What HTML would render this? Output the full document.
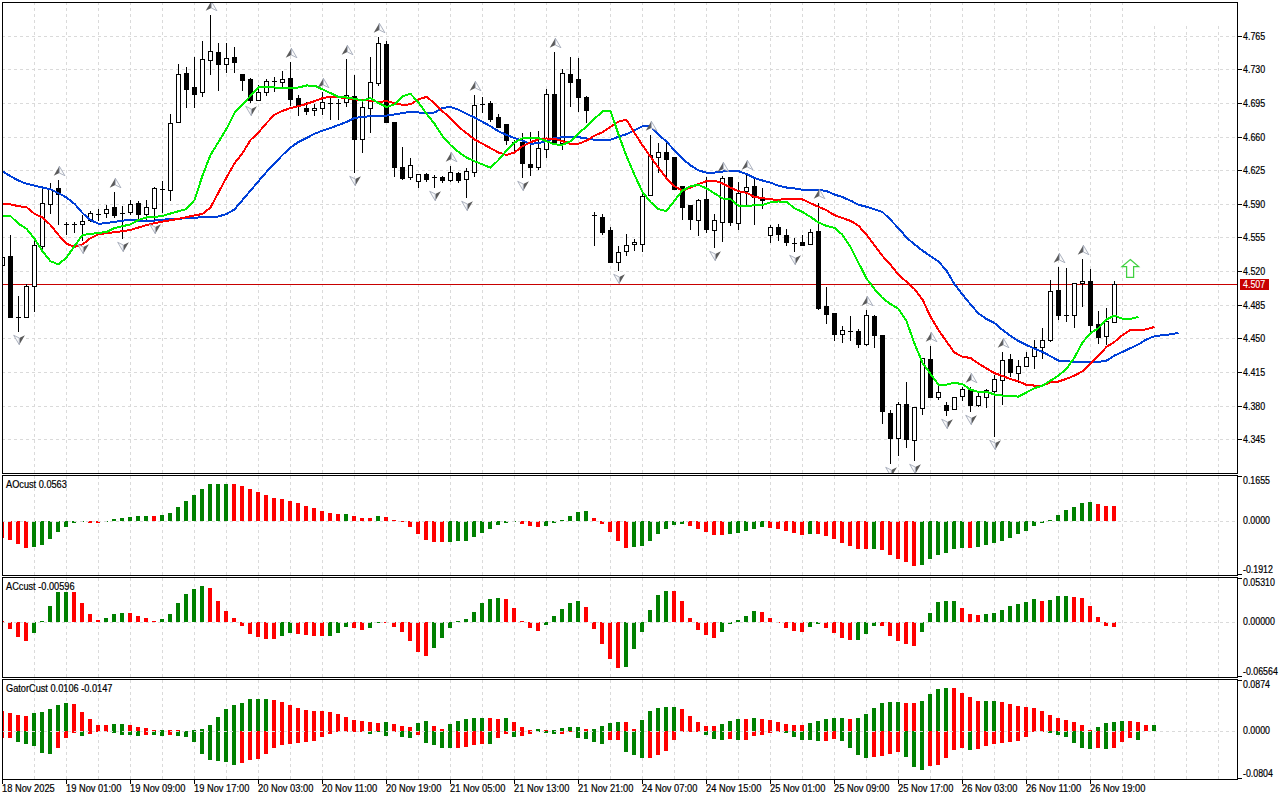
<!DOCTYPE html><html><head><meta charset="utf-8"><style>html,body{margin:0;padding:0;background:#fff;width:1280px;height:800px;overflow:hidden}svg{display:block}text{font-family:"Liberation Sans",sans-serif;font-size:10px;fill:#000;stroke:#000;stroke-width:0.2px}</style></head><body>
<svg width="1280" height="800" viewBox="0 0 1280 800">
<rect x="0" y="0" width="1280" height="800" fill="#fff"/>
<defs><clipPath id="cm"><rect x="3" y="3" width="1234" height="470"/></clipPath>
<clipPath id="c1"><rect x="3" y="476" width="1234" height="99"/></clipPath>
<clipPath id="c2"><rect x="3" y="578" width="1234" height="99"/></clipPath>
<clipPath id="c3"><rect x="3" y="680" width="1234" height="99"/></clipPath>
<clipPath id="call"><rect x="3" y="3" width="1234" height="470"/><rect x="3" y="476" width="1234" height="99"/><rect x="3" y="578" width="1234" height="99"/><rect x="3" y="680" width="1234" height="99"/></clipPath></defs>
<path d="M34.5 2V473M66.5 2V473M98.5 2V473M130.5 2V473M162.5 2V473M194.5 2V473M226.5 2V473M258.5 2V473M290.5 2V473M322.5 2V473M354.5 2V473M386.5 2V473M418.5 2V473M450.5 2V473M482.5 2V473M514.5 2V473M546.5 2V473M578.5 2V473M610.5 2V473M642.5 2V473M674.5 2V473M706.5 2V473M738.5 2V473M770.5 2V473M802.5 2V473M834.5 2V473M866.5 2V473M898.5 2V473M930.5 2V473M962.5 2V473M994.5 2V473M1026.5 2V473M1058.5 2V473M1090.5 2V473M1122.5 2V473M1154.5 26V473M1186.5 26V473M1218.5 26V473M34.5 476V575M66.5 476V575M98.5 476V575M130.5 476V575M162.5 476V575M194.5 476V575M226.5 476V575M258.5 476V575M290.5 476V575M322.5 476V575M354.5 476V575M386.5 476V575M418.5 476V575M450.5 476V575M482.5 476V575M514.5 476V575M546.5 476V575M578.5 476V575M610.5 476V575M642.5 476V575M674.5 476V575M706.5 476V575M738.5 476V575M770.5 476V575M802.5 476V575M834.5 476V575M866.5 476V575M898.5 476V575M930.5 476V575M962.5 476V575M994.5 476V575M1026.5 476V575M1058.5 476V575M1090.5 476V575M1122.5 476V575M1154.5 476V575M1186.5 476V575M1218.5 476V575M34.5 578V677M66.5 578V677M98.5 578V677M130.5 578V677M162.5 578V677M194.5 578V677M226.5 578V677M258.5 578V677M290.5 578V677M322.5 578V677M354.5 578V677M386.5 578V677M418.5 578V677M450.5 578V677M482.5 578V677M514.5 578V677M546.5 578V677M578.5 578V677M610.5 578V677M642.5 578V677M674.5 578V677M706.5 578V677M738.5 578V677M770.5 578V677M802.5 578V677M834.5 578V677M866.5 578V677M898.5 578V677M930.5 578V677M962.5 578V677M994.5 578V677M1026.5 578V677M1058.5 578V677M1090.5 578V677M1122.5 578V677M1154.5 578V677M1186.5 578V677M1218.5 578V677M34.5 680V779M66.5 680V779M98.5 680V779M130.5 680V779M162.5 680V779M194.5 680V779M226.5 680V779M258.5 680V779M290.5 680V779M322.5 680V779M354.5 680V779M386.5 680V779M418.5 680V779M450.5 680V779M482.5 680V779M514.5 680V779M546.5 680V779M578.5 680V779M610.5 680V779M642.5 680V779M674.5 680V779M706.5 680V779M738.5 680V779M770.5 680V779M802.5 680V779M834.5 680V779M866.5 680V779M898.5 680V779M930.5 680V779M962.5 680V779M994.5 680V779M1026.5 680V779M1058.5 680V779M1090.5 680V779M1122.5 680V779M1154.5 680V779M1186.5 680V779M1218.5 680V779M2 36.5H1237M2 69.5H1237M2 103.5H1237M2 137.5H1237M2 170.5H1237M2 204.5H1237M2 237.5H1237M2 271.5H1237M2 305.5H1237M2 338.5H1237M2 372.5H1237M2 406.5H1237M2 439.5H1237" clip-path="url(#call)" stroke="#dadada" stroke-width="1" stroke-dasharray="3 3" fill="none" shape-rendering="crispEdges"/>
<g clip-path="url(#cm)">
<rect x="3" y="284" width="1234" height="1" fill="#c80000"/>
<g fill="#000" shape-rendering="crispEdges"><rect x="0" y="257.0" width="5" height="9.0"/><rect x="10" y="235.0" width="1" height="21.0"/><rect x="8" y="256.0" width="5" height="62.0"/><rect x="18" y="296.0" width="1" height="21.0"/><rect x="18" y="318.0" width="1" height="14.0"/><rect x="16" y="317.0" width="5" height="1"/><rect x="26" y="284.0" width="1" height="2.0"/><rect x="24" y="286.0" width="5" height="32.0"/><rect x="34" y="240.0" width="1" height="5.0"/><rect x="34" y="287.0" width="1" height="25.0"/><rect x="32" y="245.0" width="5" height="42.0"/><rect x="42" y="188.0" width="1" height="15.0"/><rect x="42" y="247.0" width="1" height="3.0"/><rect x="40" y="203.0" width="5" height="44.0"/><rect x="50" y="183.0" width="1" height="6.0"/><rect x="50" y="205.0" width="1" height="9.0"/><rect x="48" y="189.0" width="5" height="16.0"/><rect x="58" y="180.0" width="1" height="8.0"/><rect x="58" y="195.0" width="1" height="30.0"/><rect x="56" y="188.0" width="5" height="7.0"/><rect x="66" y="222.0" width="1" height="2.0"/><rect x="66" y="225.0" width="1" height="10.0"/><rect x="64" y="224.0" width="5" height="1"/><rect x="74" y="222.0" width="1" height="2.0"/><rect x="74" y="225.0" width="1" height="8.0"/><rect x="72" y="224.0" width="5" height="1"/><rect x="82" y="215.0" width="1" height="6.0"/><rect x="82" y="225.0" width="1" height="16.0"/><rect x="80" y="221.0" width="5" height="4.0"/><rect x="90" y="211.0" width="1" height="2.0"/><rect x="90" y="221.0" width="1" height="1.0"/><rect x="88" y="213.0" width="5" height="8.0"/><rect x="98" y="209.0" width="1" height="5.0"/><rect x="98" y="215.0" width="1" height="6.0"/><rect x="96" y="214.0" width="5" height="1"/><rect x="106" y="205.0" width="1" height="4.0"/><rect x="106" y="214.0" width="1" height="4.0"/><rect x="104" y="209.0" width="5" height="5.0"/><rect x="114" y="192.0" width="1" height="15.0"/><rect x="114" y="216.0" width="1" height="2.0"/><rect x="112" y="207.0" width="5" height="9.0"/><rect x="122" y="206.0" width="1" height="7.0"/><rect x="122" y="214.0" width="1" height="25.0"/><rect x="120" y="213.0" width="5" height="1"/><rect x="130" y="200.0" width="1" height="4.0"/><rect x="130" y="213.0" width="1" height="2.0"/><rect x="128" y="204.0" width="5" height="9.0"/><rect x="138" y="201.0" width="1" height="2.0"/><rect x="138" y="215.0" width="1" height="5.0"/><rect x="136" y="203.0" width="5" height="12.0"/><rect x="146" y="200.0" width="1" height="7.0"/><rect x="146" y="215.0" width="1" height="5.0"/><rect x="144" y="207.0" width="5" height="8.0"/><rect x="154" y="187.0" width="1" height="1.0"/><rect x="154" y="209.0" width="1" height="12.0"/><rect x="152" y="188.0" width="5" height="21.0"/><rect x="162" y="181.0" width="1" height="8.0"/><rect x="162" y="190.0" width="1" height="23.0"/><rect x="160" y="189.0" width="5" height="1"/><rect x="170" y="114.0" width="1" height="9.0"/><rect x="170" y="191.0" width="1" height="10.0"/><rect x="168" y="123.0" width="5" height="68.0"/><rect x="178" y="64.0" width="1" height="10.0"/><rect x="176" y="74.0" width="5" height="49.0"/><rect x="186" y="67.0" width="1" height="6.0"/><rect x="186" y="90.0" width="1" height="18.0"/><rect x="184" y="73.0" width="5" height="17.0"/><rect x="194" y="57.0" width="1" height="30.0"/><rect x="194" y="95.0" width="1" height="13.0"/><rect x="192" y="87.0" width="5" height="8.0"/><rect x="202" y="41.0" width="1" height="18.0"/><rect x="202" y="93.0" width="1" height="4.0"/><rect x="200" y="59.0" width="5" height="34.0"/><rect x="210" y="15.0" width="1" height="36.0"/><rect x="210" y="61.0" width="1" height="14.0"/><rect x="208" y="51.0" width="5" height="10.0"/><rect x="218" y="43.0" width="1" height="9.0"/><rect x="218" y="65.0" width="1" height="26.0"/><rect x="216" y="52.0" width="5" height="13.0"/><rect x="226" y="43.0" width="1" height="15.0"/><rect x="226" y="65.0" width="1" height="8.0"/><rect x="224" y="58.0" width="5" height="7.0"/><rect x="234" y="47.0" width="1" height="10.0"/><rect x="234" y="63.0" width="1" height="10.0"/><rect x="232" y="57.0" width="5" height="6.0"/><rect x="242" y="81.0" width="1" height="10.0"/><rect x="240" y="74.0" width="5" height="7.0"/><rect x="250" y="78.0" width="1" height="1.0"/><rect x="250" y="101.0" width="1" height="2.0"/><rect x="248" y="79.0" width="5" height="22.0"/><rect x="258" y="85.0" width="1" height="7.0"/><rect x="256" y="92.0" width="5" height="9.0"/><rect x="266" y="79.0" width="1" height="2.0"/><rect x="266" y="93.0" width="1" height="3.0"/><rect x="264" y="81.0" width="5" height="12.0"/><rect x="274" y="77.0" width="1" height="4.0"/><rect x="274" y="82.0" width="1" height="10.0"/><rect x="272" y="81.0" width="5" height="1"/><rect x="282" y="71.0" width="1" height="8.0"/><rect x="282" y="83.0" width="1" height="4.0"/><rect x="280" y="79.0" width="5" height="4.0"/><rect x="290" y="62.0" width="1" height="16.0"/><rect x="290" y="100.0" width="1" height="6.0"/><rect x="288" y="78.0" width="5" height="22.0"/><rect x="298" y="95.0" width="1" height="3.0"/><rect x="298" y="106.0" width="1" height="10.0"/><rect x="296" y="98.0" width="5" height="8.0"/><rect x="306" y="102.0" width="1" height="6.0"/><rect x="306" y="112.0" width="1" height="3.0"/><rect x="304" y="108.0" width="5" height="4.0"/><rect x="314" y="104.0" width="1" height="4.0"/><rect x="314" y="111.0" width="1" height="5.0"/><rect x="312" y="108.0" width="5" height="3.0"/><rect x="322" y="92.0" width="1" height="10.0"/><rect x="322" y="109.0" width="1" height="6.0"/><rect x="320" y="102.0" width="5" height="7.0"/><rect x="330" y="97.0" width="1" height="6.0"/><rect x="330" y="104.0" width="1" height="16.0"/><rect x="328" y="103.0" width="5" height="1"/><rect x="338" y="99.0" width="1" height="4.0"/><rect x="338" y="104.0" width="1" height="16.0"/><rect x="336" y="103.0" width="5" height="1"/><rect x="346" y="59.0" width="1" height="36.0"/><rect x="346" y="103.0" width="1" height="4.0"/><rect x="344" y="95.0" width="5" height="8.0"/><rect x="354" y="75.0" width="1" height="21.0"/><rect x="354" y="140.0" width="1" height="33.0"/><rect x="352" y="96.0" width="5" height="44.0"/><rect x="362" y="102.0" width="1" height="5.0"/><rect x="362" y="140.0" width="1" height="13.0"/><rect x="360" y="107.0" width="5" height="33.0"/><rect x="370" y="57.0" width="1" height="25.0"/><rect x="370" y="109.0" width="1" height="24.0"/><rect x="368" y="82.0" width="5" height="27.0"/><rect x="378" y="37.0" width="1" height="6.0"/><rect x="378" y="84.0" width="1" height="2.0"/><rect x="376" y="43.0" width="5" height="41.0"/><rect x="386" y="41.0" width="1" height="3.0"/><rect x="384" y="44.0" width="5" height="79.0"/><rect x="394" y="168.0" width="1" height="9.0"/><rect x="392" y="122.0" width="5" height="46.0"/><rect x="402" y="147.0" width="1" height="20.0"/><rect x="402" y="179.0" width="1" height="1.0"/><rect x="400" y="167.0" width="5" height="12.0"/><rect x="410" y="158.0" width="1" height="7.0"/><rect x="410" y="178.0" width="1" height="2.0"/><rect x="408" y="165.0" width="5" height="13.0"/><rect x="418" y="182.0" width="1" height="6.0"/><rect x="416" y="174.0" width="5" height="8.0"/><rect x="426" y="173.0" width="1" height="1.0"/><rect x="426" y="180.0" width="1" height="2.0"/><rect x="424" y="174.0" width="5" height="6.0"/><rect x="434" y="175.0" width="1" height="2.0"/><rect x="434" y="178.0" width="1" height="10.0"/><rect x="432" y="177.0" width="5" height="1"/><rect x="442" y="176.0" width="1" height="1.0"/><rect x="442" y="181.0" width="1" height="2.0"/><rect x="440" y="177.0" width="5" height="4.0"/><rect x="450" y="166.0" width="1" height="6.0"/><rect x="450" y="181.0" width="1" height="1.0"/><rect x="448" y="172.0" width="5" height="9.0"/><rect x="458" y="172.0" width="1" height="1.0"/><rect x="458" y="181.0" width="1" height="2.0"/><rect x="456" y="173.0" width="5" height="8.0"/><rect x="466" y="168.0" width="1" height="3.0"/><rect x="466" y="180.0" width="1" height="18.0"/><rect x="464" y="171.0" width="5" height="9.0"/><rect x="474" y="95.0" width="1" height="10.0"/><rect x="474" y="173.0" width="1" height="4.0"/><rect x="472" y="105.0" width="5" height="68.0"/><rect x="482" y="97.0" width="1" height="7.0"/><rect x="482" y="105.0" width="1" height="8.0"/><rect x="480" y="104.0" width="5" height="1"/><rect x="490" y="101.0" width="1" height="2.0"/><rect x="490" y="120.0" width="1" height="2.0"/><rect x="488" y="103.0" width="5" height="17.0"/><rect x="498" y="114.0" width="1" height="3.0"/><rect x="496" y="117.0" width="5" height="11.0"/><rect x="506" y="141.0" width="1" height="4.0"/><rect x="504" y="124.0" width="5" height="17.0"/><rect x="514" y="140.0" width="1" height="2.0"/><rect x="514" y="143.0" width="1" height="10.0"/><rect x="512" y="142.0" width="5" height="1"/><rect x="522" y="133.0" width="1" height="9.0"/><rect x="522" y="164.0" width="1" height="14.0"/><rect x="520" y="142.0" width="5" height="22.0"/><rect x="530" y="132.0" width="1" height="32.0"/><rect x="530" y="168.0" width="1" height="8.0"/><rect x="528" y="164.0" width="5" height="4.0"/><rect x="538" y="131.0" width="1" height="17.0"/><rect x="538" y="168.0" width="1" height="2.0"/><rect x="536" y="148.0" width="5" height="20.0"/><rect x="546" y="89.0" width="1" height="5.0"/><rect x="546" y="150.0" width="1" height="8.0"/><rect x="544" y="94.0" width="5" height="56.0"/><rect x="554" y="52.0" width="1" height="42.0"/><rect x="552" y="94.0" width="5" height="49.0"/><rect x="562" y="69.0" width="1" height="4.0"/><rect x="562" y="144.0" width="1" height="6.0"/><rect x="560" y="73.0" width="5" height="71.0"/><rect x="570" y="57.0" width="1" height="17.0"/><rect x="570" y="83.0" width="1" height="24.0"/><rect x="568" y="74.0" width="5" height="9.0"/><rect x="578" y="58.0" width="1" height="21.0"/><rect x="578" y="98.0" width="1" height="14.0"/><rect x="576" y="79.0" width="5" height="19.0"/><rect x="586" y="96.0" width="1" height="1.0"/><rect x="586" y="111.0" width="1" height="12.0"/><rect x="584" y="97.0" width="5" height="14.0"/><rect x="594" y="212.0" width="1" height="3.0"/><rect x="594" y="216.0" width="1" height="30.0"/><rect x="592" y="215.0" width="5" height="1"/><rect x="602" y="214.0" width="1" height="3.0"/><rect x="602" y="233.0" width="1" height="2.0"/><rect x="600" y="217.0" width="5" height="16.0"/><rect x="610" y="227.0" width="1" height="3.0"/><rect x="608" y="230.0" width="5" height="33.0"/><rect x="618" y="246.0" width="1" height="6.0"/><rect x="618" y="263.0" width="1" height="8.0"/><rect x="616" y="252.0" width="5" height="11.0"/><rect x="626" y="234.0" width="1" height="11.0"/><rect x="626" y="252.0" width="1" height="4.0"/><rect x="624" y="245.0" width="5" height="7.0"/><rect x="634" y="239.0" width="1" height="3.0"/><rect x="634" y="245.0" width="1" height="6.0"/><rect x="632" y="242.0" width="5" height="3.0"/><rect x="642" y="191.0" width="1" height="5.0"/><rect x="642" y="245.0" width="1" height="7.0"/><rect x="640" y="196.0" width="5" height="49.0"/><rect x="650" y="135.0" width="1" height="20.0"/><rect x="648" y="155.0" width="5" height="41.0"/><rect x="658" y="143.0" width="1" height="9.0"/><rect x="658" y="158.0" width="1" height="15.0"/><rect x="656" y="152.0" width="5" height="6.0"/><rect x="666" y="143.0" width="1" height="9.0"/><rect x="666" y="160.0" width="1" height="20.0"/><rect x="664" y="152.0" width="5" height="8.0"/><rect x="672" y="157.0" width="5" height="33.0"/><rect x="682" y="208.0" width="1" height="12.0"/><rect x="680" y="186.0" width="5" height="22.0"/><rect x="690" y="220.0" width="1" height="10.0"/><rect x="688" y="205.0" width="5" height="15.0"/><rect x="698" y="199.0" width="1" height="1.0"/><rect x="698" y="221.0" width="1" height="15.0"/><rect x="696" y="200.0" width="5" height="21.0"/><rect x="706" y="177.0" width="1" height="22.0"/><rect x="706" y="230.0" width="1" height="3.0"/><rect x="704" y="199.0" width="5" height="31.0"/><rect x="714" y="214.0" width="1" height="6.0"/><rect x="714" y="231.0" width="1" height="17.0"/><rect x="712" y="220.0" width="5" height="11.0"/><rect x="722" y="176.0" width="1" height="2.0"/><rect x="722" y="223.0" width="1" height="19.0"/><rect x="720" y="178.0" width="5" height="45.0"/><rect x="730" y="223.0" width="1" height="3.0"/><rect x="728" y="177.0" width="5" height="46.0"/><rect x="738" y="182.0" width="1" height="11.0"/><rect x="738" y="224.0" width="1" height="6.0"/><rect x="736" y="193.0" width="5" height="31.0"/><rect x="746" y="174.0" width="1" height="13.0"/><rect x="746" y="192.0" width="1" height="13.0"/><rect x="744" y="187.0" width="5" height="5.0"/><rect x="754" y="179.0" width="1" height="7.0"/><rect x="754" y="198.0" width="1" height="27.0"/><rect x="752" y="186.0" width="5" height="12.0"/><rect x="762" y="188.0" width="1" height="9.0"/><rect x="762" y="201.0" width="1" height="8.0"/><rect x="760" y="197.0" width="5" height="4.0"/><rect x="770" y="225.0" width="1" height="2.0"/><rect x="770" y="236.0" width="1" height="7.0"/><rect x="768" y="227.0" width="5" height="9.0"/><rect x="778" y="224.0" width="1" height="3.0"/><rect x="778" y="235.0" width="1" height="6.0"/><rect x="776" y="227.0" width="5" height="8.0"/><rect x="786" y="229.0" width="1" height="6.0"/><rect x="786" y="243.0" width="1" height="3.0"/><rect x="784" y="235.0" width="5" height="8.0"/><rect x="794" y="238.0" width="1" height="5.0"/><rect x="794" y="244.0" width="1" height="8.0"/><rect x="792" y="243.0" width="5" height="1"/><rect x="802" y="235.0" width="1" height="7.0"/><rect x="800" y="242.0" width="5" height="4.0"/><rect x="810" y="229.0" width="1" height="3.0"/><rect x="808" y="232.0" width="5" height="13.0"/><rect x="818" y="203.0" width="1" height="28.0"/><rect x="818" y="309.0" width="1" height="1.0"/><rect x="816" y="231.0" width="5" height="78.0"/><rect x="826" y="287.0" width="1" height="19.0"/><rect x="826" y="315.0" width="1" height="9.0"/><rect x="824" y="306.0" width="5" height="9.0"/><rect x="834" y="335.0" width="1" height="6.0"/><rect x="832" y="313.0" width="5" height="22.0"/><rect x="842" y="326.0" width="1" height="4.0"/><rect x="842" y="335.0" width="1" height="8.0"/><rect x="840" y="330.0" width="5" height="5.0"/><rect x="850" y="316.0" width="1" height="15.0"/><rect x="850" y="332.0" width="1" height="9.0"/><rect x="848" y="331.0" width="5" height="1"/><rect x="858" y="329.0" width="1" height="2.0"/><rect x="858" y="345.0" width="1" height="3.0"/><rect x="856" y="331.0" width="5" height="14.0"/><rect x="866" y="310.0" width="1" height="5.0"/><rect x="866" y="345.0" width="1" height="1.0"/><rect x="864" y="315.0" width="5" height="30.0"/><rect x="874" y="315.0" width="1" height="1.0"/><rect x="874" y="336.0" width="1" height="12.0"/><rect x="872" y="316.0" width="5" height="20.0"/><rect x="882" y="412.0" width="1" height="12.0"/><rect x="880" y="335.0" width="5" height="77.0"/><rect x="890" y="410.0" width="1" height="3.0"/><rect x="890" y="439.0" width="1" height="25.0"/><rect x="888" y="413.0" width="5" height="26.0"/><rect x="898" y="402.0" width="1" height="2.0"/><rect x="898" y="439.0" width="1" height="17.0"/><rect x="896" y="404.0" width="5" height="35.0"/><rect x="906" y="382.0" width="1" height="22.0"/><rect x="906" y="440.0" width="1" height="8.0"/><rect x="904" y="404.0" width="5" height="36.0"/><rect x="914" y="441.0" width="1" height="20.0"/><rect x="912" y="407.0" width="5" height="34.0"/><rect x="922" y="409.0" width="1" height="6.0"/><rect x="920" y="358.0" width="5" height="51.0"/><rect x="930" y="346.0" width="1" height="13.0"/><rect x="928" y="359.0" width="5" height="39.0"/><rect x="938" y="386.0" width="1" height="6.0"/><rect x="938" y="398.0" width="1" height="2.0"/><rect x="936" y="392.0" width="5" height="6.0"/><rect x="946" y="402.0" width="1" height="3.0"/><rect x="946" y="411.0" width="1" height="5.0"/><rect x="944" y="405.0" width="5" height="6.0"/><rect x="952" y="397.0" width="5" height="13.0"/><rect x="962" y="387.0" width="1" height="2.0"/><rect x="962" y="397.0" width="1" height="4.0"/><rect x="960" y="389.0" width="5" height="8.0"/><rect x="970" y="387.0" width="1" height="2.0"/><rect x="970" y="406.0" width="1" height="6.0"/><rect x="968" y="389.0" width="5" height="17.0"/><rect x="978" y="392.0" width="1" height="4.0"/><rect x="978" y="406.0" width="1" height="1.0"/><rect x="976" y="396.0" width="5" height="10.0"/><rect x="986" y="389.0" width="1" height="1.0"/><rect x="986" y="398.0" width="1" height="10.0"/><rect x="984" y="390.0" width="5" height="8.0"/><rect x="994" y="375.0" width="1" height="4.0"/><rect x="994" y="392.0" width="1" height="45.0"/><rect x="992" y="379.0" width="5" height="13.0"/><rect x="1002" y="352.0" width="1" height="8.0"/><rect x="1002" y="381.0" width="1" height="24.0"/><rect x="1000" y="360.0" width="5" height="21.0"/><rect x="1010" y="354.0" width="1" height="5.0"/><rect x="1010" y="373.0" width="1" height="4.0"/><rect x="1008" y="359.0" width="5" height="14.0"/><rect x="1018" y="360.0" width="1" height="6.0"/><rect x="1018" y="374.0" width="1" height="9.0"/><rect x="1016" y="366.0" width="5" height="8.0"/><rect x="1026" y="352.0" width="1" height="5.0"/><rect x="1024" y="357.0" width="5" height="10.0"/><rect x="1034" y="340.0" width="1" height="7.0"/><rect x="1034" y="357.0" width="1" height="12.0"/><rect x="1032" y="347.0" width="5" height="10.0"/><rect x="1042" y="328.0" width="1" height="12.0"/><rect x="1042" y="348.0" width="1" height="11.0"/><rect x="1040" y="340.0" width="5" height="8.0"/><rect x="1050" y="280.0" width="1" height="11.0"/><rect x="1050" y="341.0" width="1" height="1.0"/><rect x="1048" y="291.0" width="5" height="50.0"/><rect x="1058" y="267.0" width="1" height="23.0"/><rect x="1058" y="316.0" width="1" height="4.0"/><rect x="1056" y="290.0" width="5" height="26.0"/><rect x="1066" y="268.0" width="1" height="47.0"/><rect x="1066" y="316.0" width="1" height="6.0"/><rect x="1064" y="315.0" width="5" height="1"/><rect x="1074" y="316.0" width="1" height="12.0"/><rect x="1072" y="283.0" width="5" height="33.0"/><rect x="1082" y="259.0" width="1" height="22.0"/><rect x="1082" y="284.0" width="1" height="23.0"/><rect x="1080" y="281.0" width="5" height="3.0"/><rect x="1090" y="269.0" width="1" height="12.0"/><rect x="1090" y="326.0" width="1" height="6.0"/><rect x="1088" y="281.0" width="5" height="45.0"/><rect x="1098" y="311.0" width="1" height="13.0"/><rect x="1098" y="338.0" width="1" height="6.0"/><rect x="1096" y="324.0" width="5" height="14.0"/><rect x="1106" y="308.0" width="1" height="13.0"/><rect x="1106" y="337.0" width="1" height="8.0"/><rect x="1104" y="321.0" width="5" height="16.0"/><rect x="1114" y="281.0" width="1" height="3.0"/><rect x="1112" y="284.0" width="5" height="39.0"/></g>
<g fill="#fff" shape-rendering="crispEdges"><rect x="1" y="258.0" width="3" height="7.0"/><rect x="25" y="287.0" width="3" height="30.0"/><rect x="33" y="246.0" width="3" height="40.0"/><rect x="41" y="204.0" width="3" height="42.0"/><rect x="49" y="190.0" width="3" height="14.0"/><rect x="81" y="222.0" width="3" height="2.0"/><rect x="89" y="214.0" width="3" height="6.0"/><rect x="105" y="210.0" width="3" height="3.0"/><rect x="129" y="205.0" width="3" height="7.0"/><rect x="145" y="208.0" width="3" height="6.0"/><rect x="153" y="189.0" width="3" height="19.0"/><rect x="169" y="124.0" width="3" height="66.0"/><rect x="177" y="75.0" width="3" height="47.0"/><rect x="201" y="60.0" width="3" height="32.0"/><rect x="209" y="52.0" width="3" height="8.0"/><rect x="225" y="59.0" width="3" height="5.0"/><rect x="257" y="93.0" width="3" height="7.0"/><rect x="265" y="82.0" width="3" height="10.0"/><rect x="281" y="80.0" width="3" height="2.0"/><rect x="313" y="109.0" width="3" height="1.0"/><rect x="321" y="103.0" width="3" height="5.0"/><rect x="345" y="96.0" width="3" height="6.0"/><rect x="361" y="108.0" width="3" height="31.0"/><rect x="369" y="83.0" width="3" height="25.0"/><rect x="377" y="44.0" width="3" height="39.0"/><rect x="409" y="166.0" width="3" height="11.0"/><rect x="417" y="175.0" width="3" height="6.0"/><rect x="449" y="173.0" width="3" height="7.0"/><rect x="465" y="172.0" width="3" height="7.0"/><rect x="473" y="106.0" width="3" height="66.0"/><rect x="537" y="149.0" width="3" height="18.0"/><rect x="545" y="95.0" width="3" height="54.0"/><rect x="561" y="74.0" width="3" height="69.0"/><rect x="617" y="253.0" width="3" height="9.0"/><rect x="625" y="246.0" width="3" height="5.0"/><rect x="633" y="243.0" width="3" height="1.0"/><rect x="641" y="197.0" width="3" height="47.0"/><rect x="649" y="156.0" width="3" height="39.0"/><rect x="657" y="153.0" width="3" height="4.0"/><rect x="697" y="201.0" width="3" height="19.0"/><rect x="713" y="221.0" width="3" height="9.0"/><rect x="721" y="179.0" width="3" height="43.0"/><rect x="737" y="194.0" width="3" height="29.0"/><rect x="745" y="188.0" width="3" height="3.0"/><rect x="769" y="228.0" width="3" height="7.0"/><rect x="809" y="233.0" width="3" height="11.0"/><rect x="841" y="331.0" width="3" height="3.0"/><rect x="865" y="316.0" width="3" height="28.0"/><rect x="897" y="405.0" width="3" height="33.0"/><rect x="913" y="408.0" width="3" height="32.0"/><rect x="921" y="359.0" width="3" height="49.0"/><rect x="937" y="393.0" width="3" height="4.0"/><rect x="953" y="398.0" width="3" height="11.0"/><rect x="961" y="390.0" width="3" height="6.0"/><rect x="977" y="397.0" width="3" height="8.0"/><rect x="985" y="391.0" width="3" height="6.0"/><rect x="993" y="380.0" width="3" height="11.0"/><rect x="1001" y="361.0" width="3" height="19.0"/><rect x="1017" y="367.0" width="3" height="6.0"/><rect x="1025" y="358.0" width="3" height="8.0"/><rect x="1033" y="348.0" width="3" height="8.0"/><rect x="1041" y="341.0" width="3" height="6.0"/><rect x="1049" y="292.0" width="3" height="48.0"/><rect x="1073" y="284.0" width="3" height="31.0"/><rect x="1081" y="282.0" width="3" height="1.0"/><rect x="1105" y="322.0" width="3" height="14.0"/><rect x="1113" y="285.0" width="3" height="37.0"/></g>
<polyline points="2.5,171.2 10.5,176.2 18.5,180.6 26.5,183.8 34.5,185.6 42.5,187.5 50.5,189.4 58.5,193.1 66.5,197.5 74.5,203.8 82.5,213.1 90.5,220.0 98.5,223.8 106.5,223.1 114.5,221.9 122.5,220.6 130.5,220.2 138.5,220.6 146.5,220.6 154.5,220.6 162.5,219.7 170.5,219.1 178.5,218.8 186.5,218.2 194.5,217.8 202.5,217.2 210.5,216.9 218.5,216.5 226.5,214.0 234.5,209.4 242.5,200.0 250.5,190.6 258.5,181.2 266.5,171.9 274.5,163.4 282.5,155.0 290.5,147.5 298.5,141.9 306.5,138.0 314.5,133.8 322.5,130.6 330.5,128.1 338.5,125.0 346.5,121.9 354.5,118.1 362.5,116.9 370.5,116.2 378.5,115.6 386.5,115.6 394.5,114.4 402.5,113.1 410.5,111.9 418.5,112.5 426.5,112.8 434.5,112.5 442.5,108.1 450.5,106.9 458.5,109.7 466.5,113.8 474.5,117.5 482.5,121.9 490.5,126.2 498.5,131.2 506.5,135.0 514.5,138.1 522.5,140.6 530.5,143.8 538.5,143.1 546.5,141.2 554.5,138.1 562.5,137.2 570.5,136.9 578.5,137.2 586.5,138.5 594.5,139.8 602.5,139.8 610.5,139.8 618.5,136.7 626.5,134.2 634.5,130.2 642.5,126.2 650.5,125.9 658.5,134.5 666.5,141.7 674.5,150.3 682.5,158.9 690.5,165.4 698.5,170.4 706.5,172.6 714.5,172.6 722.5,171.6 730.5,170.7 738.5,171.2 746.5,174.0 754.5,178.0 762.5,180.5 770.5,182.6 778.5,185.8 786.5,187.5 794.5,188.4 802.5,189.8 810.5,189.8 818.5,189.8 826.5,191.0 834.5,194.5 842.5,197.1 850.5,200.6 858.5,204.7 866.5,206.8 874.5,209.4 882.5,212.0 890.5,219.8 898.5,228.2 906.5,237.5 914.5,244.4 922.5,250.6 930.5,256.1 938.5,261.6 946.5,270.5 954.5,284.2 962.5,294.5 970.5,304.3 978.5,313.5 986.5,319.0 994.5,323.0 1002.5,329.9 1010.5,336.0 1018.5,341.1 1026.5,345.0 1034.5,348.6 1042.5,351.9 1050.5,356.2 1058.5,360.6 1066.5,361.2 1074.5,361.9 1082.5,361.9 1090.5,361.9 1098.5,361.9 1106.5,360.6 1114.5,355.6 1122.5,351.9 1130.5,348.1 1138.5,344.4 1146.5,339.4 1154.5,336.2 1162.5,335.2 1170.5,334.4 1178.5,332.8" fill="none" stroke="#0040d8" stroke-width="2" stroke-linejoin="miter" shape-rendering="crispEdges"/>
<polyline points="2.5,204.1 10.5,204.4 18.5,206.2 26.5,207.2 34.5,213.8 42.5,217.5 50.5,225.0 58.5,235.0 66.5,243.8 74.5,246.9 82.5,244.4 90.5,238.1 98.5,234.4 106.5,233.1 114.5,232.2 122.5,231.2 130.5,230.0 138.5,227.5 146.5,225.0 154.5,223.2 162.5,221.6 170.5,220.2 178.5,218.8 186.5,217.2 194.5,215.4 202.5,214.0 210.5,207.5 218.5,192.5 226.5,177.5 234.5,163.4 242.5,153.1 250.5,140.0 258.5,132.5 266.5,123.1 274.5,114.7 282.5,110.9 290.5,108.1 298.5,106.2 306.5,103.9 314.5,101.2 322.5,98.1 330.5,96.9 338.5,97.2 346.5,98.1 354.5,99.4 362.5,100.0 370.5,100.6 378.5,101.9 386.5,101.2 394.5,103.1 402.5,104.8 410.5,104.4 418.5,99.4 426.5,96.9 434.5,103.1 442.5,111.2 450.5,118.4 458.5,126.9 466.5,133.1 474.5,139.4 482.5,143.8 490.5,148.1 498.5,152.5 506.5,155.0 514.5,152.5 522.5,146.2 530.5,142.2 538.5,139.4 546.5,138.5 554.5,138.8 562.5,141.2 570.5,143.8 578.5,143.8 586.5,140.6 594.5,135.6 602.5,132.3 610.5,126.8 618.5,121.6 626.5,119.8 634.5,133.0 642.5,145.3 650.5,156.8 658.5,167.6 666.5,178.3 674.5,186.2 682.5,190.6 690.5,187.7 698.5,184.1 706.5,181.2 714.5,180.8 722.5,183.4 730.5,187.7 738.5,191.3 746.5,192.7 754.5,197.0 762.5,198.0 770.5,199.4 778.5,199.8 786.5,198.9 794.5,198.9 802.5,199.4 810.5,203.2 818.5,206.8 826.5,210.2 834.5,215.2 842.5,218.1 850.5,220.8 858.5,225.7 866.5,234.8 874.5,245.2 882.5,256.0 890.5,264.8 898.5,274.7 906.5,281.8 914.5,289.0 922.5,299.5 930.5,316.7 938.5,329.9 946.5,341.6 954.5,352.6 962.5,356.7 970.5,358.0 978.5,363.6 986.5,368.4 994.5,373.2 1002.5,375.9 1010.5,379.1 1018.5,381.4 1026.5,384.9 1034.5,385.6 1042.5,385.6 1050.5,382.2 1058.5,381.5 1066.5,378.8 1074.5,375.6 1082.5,371.2 1090.5,363.8 1098.5,355.6 1106.5,346.9 1114.5,341.9 1122.5,335.0 1130.5,330.0 1138.5,330.0 1146.5,329.4 1154.5,326.9" fill="none" stroke="#ff0000" stroke-width="2" stroke-linejoin="miter" shape-rendering="crispEdges"/>
<polyline points="2.5,215.6 10.5,216.0 18.5,223.8 26.5,228.8 34.5,238.8 42.5,251.2 50.5,261.2 58.5,264.4 66.5,257.5 74.5,246.2 82.5,235.0 90.5,233.8 98.5,233.1 106.5,231.9 114.5,228.1 122.5,226.2 130.5,224.4 138.5,220.0 146.5,217.5 154.5,217.0 162.5,216.0 170.5,213.5 178.5,211.2 186.5,209.0 194.5,200.0 202.5,175.6 210.5,155.0 218.5,141.9 226.5,128.8 234.5,112.8 242.5,104.4 250.5,95.9 258.5,87.1 266.5,87.1 274.5,87.5 282.5,87.9 290.5,87.9 298.5,87.5 306.5,85.5 314.5,85.6 322.5,89.4 330.5,93.1 338.5,96.9 346.5,97.5 354.5,98.8 362.5,100.6 370.5,98.1 378.5,103.1 386.5,106.9 394.5,104.4 402.5,96.2 410.5,93.8 418.5,102.5 426.5,113.8 434.5,123.8 442.5,136.2 450.5,145.0 458.5,152.0 466.5,157.5 474.5,161.2 482.5,164.4 490.5,167.8 498.5,160.0 506.5,150.6 514.5,142.5 522.5,138.1 530.5,137.8 538.5,138.1 546.5,141.2 554.5,144.4 562.5,144.8 570.5,141.2 578.5,133.1 586.5,126.9 594.5,118.8 602.5,111.4 610.5,110.7 618.5,134.5 626.5,156.1 634.5,174.8 642.5,192.0 650.5,202.0 658.5,209.2 666.5,211.0 674.5,200.6 682.5,190.6 690.5,186.2 698.5,184.8 706.5,188.4 714.5,193.4 722.5,198.5 730.5,199.2 738.5,205.7 746.5,205.7 754.5,205.4 762.5,205.0 770.5,202.4 778.5,201.5 786.5,201.8 794.5,208.2 802.5,212.0 810.5,216.9 818.5,222.5 826.5,226.0 834.5,227.8 842.5,234.8 850.5,247.0 858.5,262.8 866.5,278.5 874.5,289.0 882.5,298.0 890.5,304.0 898.5,308.8 906.5,321.0 914.5,343.6 922.5,362.9 930.5,373.9 938.5,384.6 946.5,384.6 954.5,382.8 962.5,384.2 970.5,389.7 978.5,391.8 986.5,391.8 994.5,394.5 1002.5,395.6 1010.5,395.9 1018.5,396.6 1026.5,392.4 1034.5,388.2 1042.5,385.6 1050.5,380.6 1058.5,375.6 1066.5,368.8 1074.5,357.5 1082.5,342.5 1090.5,333.1 1098.5,328.1 1106.5,319.4 1114.5,315.6 1122.5,318.8 1130.5,318.8 1138.5,316.9" fill="none" stroke="#00ee00" stroke-width="2" stroke-linejoin="miter" shape-rendering="crispEdges"/>
<g><path d="M59.3 166.2L53.699999999999996 175.7L59.3 173.0Z" fill="#5a5a5a"/><path d="M59.3 166.2L64.89999999999999 175.7L59.3 173.0Z" fill="#fafafa" stroke="#98a0b0" stroke-width="0.8"/><path d="M115.3 178.2L109.7 187.7L115.3 185.0Z" fill="#5a5a5a"/><path d="M115.3 178.2L120.89999999999999 187.7L115.3 185.0Z" fill="#fafafa" stroke="#98a0b0" stroke-width="0.8"/><path d="M211.3 1.1999999999999993L205.70000000000002 10.7L211.3 8.0Z" fill="#5a5a5a"/><path d="M211.3 1.1999999999999993L216.9 10.7L211.3 8.0Z" fill="#fafafa" stroke="#98a0b0" stroke-width="0.8"/><path d="M291.3 48.2L285.7 57.7L291.3 55.0Z" fill="#5a5a5a"/><path d="M291.3 48.2L296.90000000000003 57.7L291.3 55.0Z" fill="#fafafa" stroke="#98a0b0" stroke-width="0.8"/><path d="M323.3 78.2L317.7 87.7L323.3 85.0Z" fill="#5a5a5a"/><path d="M323.3 78.2L328.90000000000003 87.7L323.3 85.0Z" fill="#fafafa" stroke="#98a0b0" stroke-width="0.8"/><path d="M347.3 45.2L341.7 54.7L347.3 52.0Z" fill="#5a5a5a"/><path d="M347.3 45.2L352.90000000000003 54.7L347.3 52.0Z" fill="#fafafa" stroke="#98a0b0" stroke-width="0.8"/><path d="M379.3 23.2L373.7 32.7L379.3 30.0Z" fill="#5a5a5a"/><path d="M379.3 23.2L384.90000000000003 32.7L379.3 30.0Z" fill="#fafafa" stroke="#98a0b0" stroke-width="0.8"/><path d="M451.3 152.2L445.7 161.7L451.3 159.0Z" fill="#5a5a5a"/><path d="M451.3 152.2L456.90000000000003 161.7L451.3 159.0Z" fill="#fafafa" stroke="#98a0b0" stroke-width="0.8"/><path d="M475.3 81.2L469.7 90.7L475.3 88.0Z" fill="#5a5a5a"/><path d="M475.3 81.2L480.90000000000003 90.7L475.3 88.0Z" fill="#fafafa" stroke="#98a0b0" stroke-width="0.8"/><path d="M555.3 38.2L549.6999999999999 47.7L555.3 45.0Z" fill="#5a5a5a"/><path d="M555.3 38.2L560.9 47.7L555.3 45.0Z" fill="#fafafa" stroke="#98a0b0" stroke-width="0.8"/><path d="M651.3 121.2L645.6999999999999 130.7L651.3 128.0Z" fill="#5a5a5a"/><path d="M651.3 121.2L656.9 130.7L651.3 128.0Z" fill="#fafafa" stroke="#98a0b0" stroke-width="0.8"/><path d="M723.3 162.2L717.6999999999999 171.7L723.3 169.0Z" fill="#5a5a5a"/><path d="M723.3 162.2L728.9 171.7L723.3 169.0Z" fill="#fafafa" stroke="#98a0b0" stroke-width="0.8"/><path d="M747.3 160.2L741.6999999999999 169.7L747.3 167.0Z" fill="#5a5a5a"/><path d="M747.3 160.2L752.9 169.7L747.3 167.0Z" fill="#fafafa" stroke="#98a0b0" stroke-width="0.8"/><path d="M819.3 189.2L813.6999999999999 198.7L819.3 196.0Z" fill="#5a5a5a"/><path d="M819.3 189.2L824.9 198.7L819.3 196.0Z" fill="#fafafa" stroke="#98a0b0" stroke-width="0.8"/><path d="M867.3 296.2L861.6999999999999 305.7L867.3 303.0Z" fill="#5a5a5a"/><path d="M867.3 296.2L872.9 305.7L867.3 303.0Z" fill="#fafafa" stroke="#98a0b0" stroke-width="0.8"/><path d="M931.3 332.2L925.6999999999999 341.7L931.3 339.0Z" fill="#5a5a5a"/><path d="M931.3 332.2L936.9 341.7L931.3 339.0Z" fill="#fafafa" stroke="#98a0b0" stroke-width="0.8"/><path d="M971.3 373.2L965.6999999999999 382.7L971.3 380.0Z" fill="#5a5a5a"/><path d="M971.3 373.2L976.9 382.7L971.3 380.0Z" fill="#fafafa" stroke="#98a0b0" stroke-width="0.8"/><path d="M1003.3 338.2L997.6999999999999 347.7L1003.3 345.0Z" fill="#5a5a5a"/><path d="M1003.3 338.2L1008.9 347.7L1003.3 345.0Z" fill="#fafafa" stroke="#98a0b0" stroke-width="0.8"/><path d="M1059.3 253.2L1053.7 262.7L1059.3 260.0Z" fill="#5a5a5a"/><path d="M1059.3 253.2L1064.8999999999999 262.7L1059.3 260.0Z" fill="#fafafa" stroke="#98a0b0" stroke-width="0.8"/><path d="M1083.3 245.2L1077.7 254.7L1083.3 252.0Z" fill="#5a5a5a"/><path d="M1083.3 245.2L1088.8999999999999 254.7L1083.3 252.0Z" fill="#fafafa" stroke="#98a0b0" stroke-width="0.8"/><path d="M19.3 344.8L24.9 335.3L19.3 338.0Z" fill="#5a5a5a"/><path d="M19.3 344.8L13.700000000000001 335.3L19.3 338.0Z" fill="#fafafa" stroke="#98a0b0" stroke-width="0.8"/><path d="M83.3 253.8L88.89999999999999 244.3L83.3 247.0Z" fill="#5a5a5a"/><path d="M83.3 253.8L77.7 244.3L83.3 247.0Z" fill="#fafafa" stroke="#98a0b0" stroke-width="0.8"/><path d="M123.3 251.8L128.9 242.3L123.3 245.0Z" fill="#5a5a5a"/><path d="M123.3 251.8L117.7 242.3L123.3 245.0Z" fill="#fafafa" stroke="#98a0b0" stroke-width="0.8"/><path d="M155.3 233.8L160.9 224.3L155.3 227.0Z" fill="#5a5a5a"/><path d="M155.3 233.8L149.70000000000002 224.3L155.3 227.0Z" fill="#fafafa" stroke="#98a0b0" stroke-width="0.8"/><path d="M251.3 115.8L256.90000000000003 106.3L251.3 109.0Z" fill="#5a5a5a"/><path d="M251.3 115.8L245.70000000000002 106.3L251.3 109.0Z" fill="#fafafa" stroke="#98a0b0" stroke-width="0.8"/><path d="M355.3 185.8L360.90000000000003 176.3L355.3 179.0Z" fill="#5a5a5a"/><path d="M355.3 185.8L349.7 176.3L355.3 179.0Z" fill="#fafafa" stroke="#98a0b0" stroke-width="0.8"/><path d="M435.3 200.8L440.90000000000003 191.3L435.3 194.0Z" fill="#5a5a5a"/><path d="M435.3 200.8L429.7 191.3L435.3 194.0Z" fill="#fafafa" stroke="#98a0b0" stroke-width="0.8"/><path d="M467.3 210.8L472.90000000000003 201.3L467.3 204.0Z" fill="#5a5a5a"/><path d="M467.3 210.8L461.7 201.3L467.3 204.0Z" fill="#fafafa" stroke="#98a0b0" stroke-width="0.8"/><path d="M523.3 190.8L528.9 181.3L523.3 184.0Z" fill="#5a5a5a"/><path d="M523.3 190.8L517.6999999999999 181.3L523.3 184.0Z" fill="#fafafa" stroke="#98a0b0" stroke-width="0.8"/><path d="M619.3 283.8L624.9 274.3L619.3 277.0Z" fill="#5a5a5a"/><path d="M619.3 283.8L613.6999999999999 274.3L619.3 277.0Z" fill="#fafafa" stroke="#98a0b0" stroke-width="0.8"/><path d="M715.3 260.8L720.9 251.3L715.3 254.0Z" fill="#5a5a5a"/><path d="M715.3 260.8L709.6999999999999 251.3L715.3 254.0Z" fill="#fafafa" stroke="#98a0b0" stroke-width="0.8"/><path d="M795.3 264.8L800.9 255.3L795.3 258.0Z" fill="#5a5a5a"/><path d="M795.3 264.8L789.6999999999999 255.3L795.3 258.0Z" fill="#fafafa" stroke="#98a0b0" stroke-width="0.8"/><path d="M891.3 476.8L896.9 467.3L891.3 470.0Z" fill="#5a5a5a"/><path d="M891.3 476.8L885.6999999999999 467.3L891.3 470.0Z" fill="#fafafa" stroke="#98a0b0" stroke-width="0.8"/><path d="M915.3 473.8L920.9 464.3L915.3 467.0Z" fill="#5a5a5a"/><path d="M915.3 473.8L909.6999999999999 464.3L915.3 467.0Z" fill="#fafafa" stroke="#98a0b0" stroke-width="0.8"/><path d="M947.3 428.8L952.9 419.3L947.3 422.0Z" fill="#5a5a5a"/><path d="M947.3 428.8L941.6999999999999 419.3L947.3 422.0Z" fill="#fafafa" stroke="#98a0b0" stroke-width="0.8"/><path d="M971.3 424.8L976.9 415.3L971.3 418.0Z" fill="#5a5a5a"/><path d="M971.3 424.8L965.6999999999999 415.3L971.3 418.0Z" fill="#fafafa" stroke="#98a0b0" stroke-width="0.8"/><path d="M995.3 449.8L1000.9 440.3L995.3 443.0Z" fill="#5a5a5a"/><path d="M995.3 449.8L989.6999999999999 440.3L995.3 443.0Z" fill="#fafafa" stroke="#98a0b0" stroke-width="0.8"/></g>
<path d="M1130.3 259.6L1138.6 266.6H1133.6V277.4H1126.6V266.6H1122Z" fill="#fff" stroke="#40d040" stroke-width="1.25"/>
</g>
<g clip-path="url(#c1)" shape-rendering="crispEdges"><g fill="#008000"><rect x="32" y="521" width="4" height="26"/><rect x="40" y="521" width="4" height="24"/><rect x="48" y="521" width="4" height="18"/><rect x="56" y="521" width="4" height="11"/><rect x="64" y="521" width="4" height="6"/><rect x="72" y="521" width="4" height="2"/><rect x="80" y="521" width="4" height="1"/><rect x="104" y="521" width="4" height="1"/><rect x="112" y="519" width="4" height="2"/><rect x="120" y="518" width="4" height="3"/><rect x="128" y="517" width="4" height="4"/><rect x="136" y="516" width="4" height="5"/><rect x="144" y="516" width="4" height="5"/><rect x="160" y="515" width="4" height="6"/><rect x="168" y="513" width="4" height="8"/><rect x="176" y="507" width="4" height="14"/><rect x="184" y="501" width="4" height="20"/><rect x="192" y="495" width="4" height="26"/><rect x="200" y="489" width="4" height="32"/><rect x="208" y="484" width="4" height="37"/><rect x="216" y="484" width="4" height="37"/><rect x="224" y="484" width="4" height="37"/><rect x="344" y="514" width="4" height="7"/><rect x="376" y="516" width="4" height="5"/><rect x="448" y="521" width="4" height="21"/><rect x="456" y="521" width="4" height="20"/><rect x="464" y="521" width="4" height="20"/><rect x="472" y="521" width="4" height="16"/><rect x="480" y="521" width="4" height="12"/><rect x="488" y="521" width="4" height="8"/><rect x="496" y="521" width="4" height="4"/><rect x="504" y="521" width="4" height="2"/><rect x="512" y="521" width="4" height="1"/><rect x="544" y="521" width="4" height="5"/><rect x="552" y="521" width="4" height="2"/><rect x="560" y="520" width="4" height="1"/><rect x="568" y="516" width="4" height="5"/><rect x="576" y="512" width="4" height="9"/><rect x="584" y="511" width="4" height="10"/><rect x="632" y="521" width="4" height="26"/><rect x="640" y="521" width="4" height="25"/><rect x="648" y="521" width="4" height="20"/><rect x="656" y="521" width="4" height="13"/><rect x="664" y="521" width="4" height="8"/><rect x="672" y="521" width="4" height="4"/><rect x="680" y="521" width="4" height="3"/><rect x="728" y="521" width="4" height="13"/><rect x="736" y="521" width="4" height="12"/><rect x="744" y="521" width="4" height="10"/><rect x="752" y="521" width="4" height="8"/><rect x="760" y="521" width="4" height="6"/><rect x="808" y="521" width="4" height="13"/><rect x="872" y="521" width="4" height="28"/><rect x="920" y="521" width="4" height="44"/><rect x="928" y="521" width="4" height="38"/><rect x="936" y="521" width="4" height="34"/><rect x="944" y="521" width="4" height="32"/><rect x="952" y="521" width="4" height="28"/><rect x="960" y="521" width="4" height="27"/><rect x="976" y="521" width="4" height="26"/><rect x="984" y="521" width="4" height="24"/><rect x="992" y="521" width="4" height="22"/><rect x="1000" y="521" width="4" height="20"/><rect x="1008" y="521" width="4" height="17"/><rect x="1016" y="521" width="4" height="13"/><rect x="1024" y="521" width="4" height="10"/><rect x="1032" y="521" width="4" height="5"/><rect x="1040" y="521" width="4" height="2"/><rect x="1048" y="520" width="4" height="1"/><rect x="1056" y="515" width="4" height="6"/><rect x="1064" y="510" width="4" height="11"/><rect x="1072" y="507" width="4" height="14"/><rect x="1080" y="503" width="4" height="18"/><rect x="1088" y="502" width="4" height="19"/></g><g fill="#ff0000"><rect x="0" y="521" width="4" height="17"/><rect x="8" y="521" width="4" height="19"/><rect x="16" y="521" width="4" height="23"/><rect x="24" y="521" width="4" height="27"/><rect x="88" y="521" width="4" height="2"/><rect x="96" y="521" width="4" height="2"/><rect x="152" y="516" width="4" height="5"/><rect x="232" y="484" width="4" height="37"/><rect x="240" y="486" width="4" height="35"/><rect x="248" y="489" width="4" height="32"/><rect x="256" y="492" width="4" height="29"/><rect x="264" y="495" width="4" height="26"/><rect x="272" y="498" width="4" height="23"/><rect x="280" y="499" width="4" height="22"/><rect x="288" y="501" width="4" height="20"/><rect x="296" y="503" width="4" height="18"/><rect x="304" y="506" width="4" height="15"/><rect x="312" y="508" width="4" height="13"/><rect x="320" y="511" width="4" height="10"/><rect x="328" y="513" width="4" height="8"/><rect x="336" y="514" width="4" height="7"/><rect x="352" y="516" width="4" height="5"/><rect x="360" y="518" width="4" height="3"/><rect x="368" y="518" width="4" height="3"/><rect x="384" y="517" width="4" height="4"/><rect x="392" y="520" width="4" height="1"/><rect x="400" y="521" width="4" height="1"/><rect x="408" y="521" width="4" height="6"/><rect x="416" y="521" width="4" height="13"/><rect x="424" y="521" width="4" height="19"/><rect x="432" y="521" width="4" height="21"/><rect x="440" y="521" width="4" height="21"/><rect x="520" y="521" width="4" height="3"/><rect x="528" y="521" width="4" height="5"/><rect x="536" y="521" width="4" height="6"/><rect x="592" y="518" width="4" height="3"/><rect x="600" y="521" width="4" height="3"/><rect x="608" y="521" width="4" height="11"/><rect x="616" y="521" width="4" height="20"/><rect x="624" y="521" width="4" height="27"/><rect x="688" y="521" width="4" height="5"/><rect x="696" y="521" width="4" height="8"/><rect x="704" y="521" width="4" height="11"/><rect x="712" y="521" width="4" height="14"/><rect x="720" y="521" width="4" height="14"/><rect x="768" y="521" width="4" height="7"/><rect x="776" y="521" width="4" height="8"/><rect x="784" y="521" width="4" height="10"/><rect x="792" y="521" width="4" height="12"/><rect x="800" y="521" width="4" height="14"/><rect x="816" y="521" width="4" height="13"/><rect x="824" y="521" width="4" height="15"/><rect x="832" y="521" width="4" height="18"/><rect x="840" y="521" width="4" height="22"/><rect x="848" y="521" width="4" height="25"/><rect x="856" y="521" width="4" height="28"/><rect x="864" y="521" width="4" height="28"/><rect x="880" y="521" width="4" height="29"/><rect x="888" y="521" width="4" height="34"/><rect x="896" y="521" width="4" height="38"/><rect x="904" y="521" width="4" height="41"/><rect x="912" y="521" width="4" height="45"/><rect x="968" y="521" width="4" height="27"/><rect x="1096" y="504" width="4" height="17"/><rect x="1104" y="506" width="4" height="15"/><rect x="1112" y="506" width="4" height="15"/></g></g>
<g clip-path="url(#c2)" shape-rendering="crispEdges"><g fill="#008000"><rect x="32" y="622" width="4" height="11"/><rect x="40" y="621" width="4" height="1"/><rect x="48" y="606" width="4" height="16"/><rect x="56" y="592" width="4" height="30"/><rect x="64" y="592" width="4" height="30"/><rect x="104" y="618" width="4" height="4"/><rect x="112" y="614" width="4" height="8"/><rect x="120" y="613" width="4" height="9"/><rect x="160" y="619" width="4" height="3"/><rect x="168" y="614" width="4" height="8"/><rect x="176" y="603" width="4" height="19"/><rect x="184" y="594" width="4" height="28"/><rect x="192" y="589" width="4" height="33"/><rect x="200" y="586" width="4" height="36"/><rect x="280" y="622" width="4" height="14"/><rect x="288" y="622" width="4" height="11"/><rect x="328" y="622" width="4" height="14"/><rect x="336" y="622" width="4" height="11"/><rect x="344" y="622" width="4" height="5"/><rect x="368" y="622" width="4" height="6"/><rect x="376" y="622" width="4" height="1"/><rect x="432" y="622" width="4" height="26"/><rect x="440" y="622" width="4" height="16"/><rect x="448" y="622" width="4" height="6"/><rect x="456" y="621" width="4" height="1"/><rect x="464" y="619" width="4" height="3"/><rect x="472" y="612" width="4" height="10"/><rect x="480" y="603" width="4" height="19"/><rect x="488" y="599" width="4" height="23"/><rect x="496" y="598" width="4" height="24"/><rect x="544" y="622" width="4" height="3"/><rect x="552" y="616" width="4" height="6"/><rect x="560" y="609" width="4" height="13"/><rect x="568" y="603" width="4" height="19"/><rect x="576" y="601" width="4" height="21"/><rect x="624" y="622" width="4" height="45"/><rect x="632" y="622" width="4" height="27"/><rect x="640" y="622" width="4" height="10"/><rect x="648" y="610" width="4" height="12"/><rect x="656" y="595" width="4" height="27"/><rect x="664" y="591" width="4" height="31"/><rect x="720" y="622" width="4" height="10"/><rect x="728" y="622" width="4" height="2"/><rect x="736" y="620" width="4" height="2"/><rect x="744" y="616" width="4" height="6"/><rect x="752" y="611" width="4" height="11"/><rect x="808" y="622" width="4" height="5"/><rect x="816" y="622" width="4" height="2"/><rect x="856" y="622" width="4" height="18"/><rect x="864" y="622" width="4" height="12"/><rect x="872" y="622" width="4" height="4"/><rect x="920" y="622" width="4" height="10"/><rect x="928" y="613" width="4" height="9"/><rect x="936" y="602" width="4" height="20"/><rect x="944" y="601" width="4" height="21"/><rect x="952" y="601" width="4" height="21"/><rect x="984" y="614" width="4" height="8"/><rect x="992" y="613" width="4" height="9"/><rect x="1000" y="610" width="4" height="12"/><rect x="1008" y="606" width="4" height="16"/><rect x="1016" y="604" width="4" height="18"/><rect x="1024" y="602" width="4" height="20"/><rect x="1032" y="599" width="4" height="23"/><rect x="1048" y="600" width="4" height="22"/><rect x="1056" y="596" width="4" height="26"/><rect x="1064" y="596" width="4" height="26"/></g><g fill="#ff0000"><rect x="0" y="621" width="4" height="1"/><rect x="8" y="622" width="4" height="7"/><rect x="16" y="622" width="4" height="15"/><rect x="24" y="622" width="4" height="19"/><rect x="72" y="592" width="4" height="30"/><rect x="80" y="603" width="4" height="19"/><rect x="88" y="614" width="4" height="8"/><rect x="96" y="620" width="4" height="2"/><rect x="128" y="613" width="4" height="9"/><rect x="136" y="616" width="4" height="6"/><rect x="144" y="618" width="4" height="4"/><rect x="152" y="621" width="4" height="1"/><rect x="208" y="588" width="4" height="34"/><rect x="216" y="601" width="4" height="21"/><rect x="224" y="611" width="4" height="11"/><rect x="232" y="618" width="4" height="4"/><rect x="240" y="622" width="4" height="4"/><rect x="248" y="622" width="4" height="12"/><rect x="256" y="622" width="4" height="15"/><rect x="264" y="622" width="4" height="17"/><rect x="272" y="622" width="4" height="17"/><rect x="296" y="622" width="4" height="12"/><rect x="304" y="622" width="4" height="13"/><rect x="312" y="622" width="4" height="14"/><rect x="320" y="622" width="4" height="14"/><rect x="352" y="622" width="4" height="6"/><rect x="360" y="622" width="4" height="8"/><rect x="384" y="622" width="4" height="1"/><rect x="392" y="622" width="4" height="5"/><rect x="400" y="622" width="4" height="10"/><rect x="408" y="622" width="4" height="19"/><rect x="416" y="622" width="4" height="30"/><rect x="424" y="622" width="4" height="34"/><rect x="504" y="599" width="4" height="23"/><rect x="512" y="608" width="4" height="14"/><rect x="520" y="621" width="4" height="1"/><rect x="528" y="622" width="4" height="6"/><rect x="536" y="622" width="4" height="9"/><rect x="584" y="607" width="4" height="15"/><rect x="592" y="622" width="4" height="7"/><rect x="600" y="622" width="4" height="22"/><rect x="608" y="622" width="4" height="37"/><rect x="616" y="622" width="4" height="46"/><rect x="672" y="591" width="4" height="31"/><rect x="680" y="601" width="4" height="21"/><rect x="688" y="618" width="4" height="4"/><rect x="696" y="622" width="4" height="8"/><rect x="704" y="622" width="4" height="13"/><rect x="712" y="622" width="4" height="16"/><rect x="760" y="612" width="4" height="10"/><rect x="768" y="618" width="4" height="4"/><rect x="776" y="622" width="4" height="1"/><rect x="784" y="622" width="4" height="6"/><rect x="792" y="622" width="4" height="9"/><rect x="800" y="622" width="4" height="10"/><rect x="824" y="622" width="4" height="6"/><rect x="832" y="622" width="4" height="11"/><rect x="840" y="622" width="4" height="16"/><rect x="848" y="622" width="4" height="18"/><rect x="880" y="622" width="4" height="4"/><rect x="888" y="622" width="4" height="14"/><rect x="896" y="622" width="4" height="19"/><rect x="904" y="622" width="4" height="22"/><rect x="912" y="622" width="4" height="24"/><rect x="960" y="608" width="4" height="14"/><rect x="968" y="614" width="4" height="8"/><rect x="976" y="615" width="4" height="7"/><rect x="1040" y="601" width="4" height="21"/><rect x="1072" y="597" width="4" height="25"/><rect x="1080" y="598" width="4" height="24"/><rect x="1088" y="606" width="4" height="16"/><rect x="1096" y="617" width="4" height="5"/><rect x="1104" y="622" width="4" height="4"/><rect x="1112" y="622" width="4" height="5"/></g></g>
<g clip-path="url(#c3)" shape-rendering="crispEdges"><g fill="#008000"><rect x="32" y="713" width="4" height="18"/><rect x="40" y="712" width="4" height="19"/><rect x="48" y="709" width="4" height="22"/><rect x="56" y="705" width="4" height="26"/><rect x="64" y="703" width="4" height="28"/><rect x="112" y="724" width="4" height="7"/><rect x="120" y="724" width="4" height="7"/><rect x="160" y="730" width="4" height="1"/><rect x="184" y="731" width="4" height="1"/><rect x="192" y="730" width="4" height="1"/><rect x="200" y="729" width="4" height="2"/><rect x="208" y="725" width="4" height="6"/><rect x="216" y="717" width="4" height="14"/><rect x="224" y="709" width="4" height="22"/><rect x="232" y="705" width="4" height="26"/><rect x="240" y="703" width="4" height="28"/><rect x="248" y="699" width="4" height="32"/><rect x="256" y="699" width="4" height="32"/><rect x="264" y="699" width="4" height="32"/><rect x="384" y="722" width="4" height="9"/><rect x="416" y="723" width="4" height="8"/><rect x="424" y="721" width="4" height="10"/><rect x="448" y="724" width="4" height="7"/><rect x="456" y="721" width="4" height="10"/><rect x="464" y="719" width="4" height="12"/><rect x="472" y="718" width="4" height="13"/><rect x="480" y="718" width="4" height="13"/><rect x="504" y="718" width="4" height="13"/><rect x="536" y="729" width="4" height="2"/><rect x="552" y="730" width="4" height="1"/><rect x="560" y="728" width="4" height="3"/><rect x="568" y="727" width="4" height="4"/><rect x="576" y="727" width="4" height="4"/><rect x="592" y="729" width="4" height="2"/><rect x="600" y="726" width="4" height="5"/><rect x="608" y="723" width="4" height="8"/><rect x="616" y="722" width="4" height="9"/><rect x="640" y="720" width="4" height="11"/><rect x="648" y="711" width="4" height="20"/><rect x="656" y="708" width="4" height="23"/><rect x="664" y="707" width="4" height="24"/><rect x="672" y="707" width="4" height="24"/><rect x="720" y="724" width="4" height="7"/><rect x="728" y="721" width="4" height="10"/><rect x="736" y="719" width="4" height="12"/><rect x="752" y="718" width="4" height="13"/><rect x="808" y="723" width="4" height="8"/><rect x="816" y="721" width="4" height="10"/><rect x="824" y="719" width="4" height="12"/><rect x="832" y="718" width="4" height="13"/><rect x="840" y="718" width="4" height="13"/><rect x="856" y="718" width="4" height="13"/><rect x="864" y="714" width="4" height="17"/><rect x="872" y="708" width="4" height="23"/><rect x="880" y="703" width="4" height="28"/><rect x="888" y="702" width="4" height="29"/><rect x="896" y="702" width="4" height="29"/><rect x="920" y="701" width="4" height="30"/><rect x="928" y="694" width="4" height="37"/><rect x="936" y="689" width="4" height="42"/><rect x="944" y="688" width="4" height="43"/><rect x="984" y="701" width="4" height="30"/><rect x="992" y="701" width="4" height="30"/><rect x="1096" y="727" width="4" height="4"/><rect x="1104" y="723" width="4" height="8"/><rect x="1112" y="722" width="4" height="9"/><rect x="1120" y="721" width="4" height="10"/><rect x="1152" y="725" width="4" height="6"/></g><g fill="#ff0000"><rect x="0" y="711" width="4" height="20"/><rect x="8" y="713" width="4" height="18"/><rect x="16" y="715" width="4" height="16"/><rect x="24" y="716" width="4" height="15"/><rect x="72" y="704" width="4" height="27"/><rect x="80" y="712" width="4" height="19"/><rect x="88" y="719" width="4" height="12"/><rect x="96" y="725" width="4" height="6"/><rect x="104" y="725" width="4" height="6"/><rect x="128" y="725" width="4" height="6"/><rect x="136" y="727" width="4" height="4"/><rect x="144" y="728" width="4" height="3"/><rect x="152" y="730" width="4" height="1"/><rect x="168" y="730" width="4" height="1"/><rect x="176" y="730" width="4" height="1"/><rect x="272" y="700" width="4" height="31"/><rect x="280" y="702" width="4" height="29"/><rect x="288" y="705" width="4" height="26"/><rect x="296" y="708" width="4" height="23"/><rect x="304" y="710" width="4" height="21"/><rect x="312" y="711" width="4" height="20"/><rect x="320" y="711" width="4" height="20"/><rect x="328" y="712" width="4" height="19"/><rect x="336" y="714" width="4" height="17"/><rect x="344" y="717" width="4" height="14"/><rect x="352" y="720" width="4" height="11"/><rect x="360" y="721" width="4" height="10"/><rect x="368" y="722" width="4" height="9"/><rect x="376" y="723" width="4" height="8"/><rect x="392" y="724" width="4" height="7"/><rect x="400" y="726" width="4" height="5"/><rect x="408" y="727" width="4" height="4"/><rect x="432" y="726" width="4" height="5"/><rect x="440" y="729" width="4" height="2"/><rect x="488" y="718" width="4" height="13"/><rect x="496" y="719" width="4" height="12"/><rect x="512" y="722" width="4" height="9"/><rect x="520" y="727" width="4" height="4"/><rect x="528" y="730" width="4" height="1"/><rect x="544" y="730" width="4" height="1"/><rect x="584" y="729" width="4" height="2"/><rect x="624" y="722" width="4" height="9"/><rect x="632" y="729" width="4" height="2"/><rect x="680" y="709" width="4" height="22"/><rect x="688" y="716" width="4" height="15"/><rect x="696" y="722" width="4" height="9"/><rect x="704" y="726" width="4" height="5"/><rect x="712" y="726" width="4" height="5"/><rect x="744" y="719" width="4" height="12"/><rect x="760" y="719" width="4" height="12"/><rect x="768" y="720" width="4" height="11"/><rect x="776" y="722" width="4" height="9"/><rect x="784" y="724" width="4" height="7"/><rect x="792" y="725" width="4" height="6"/><rect x="800" y="725" width="4" height="6"/><rect x="848" y="719" width="4" height="12"/><rect x="904" y="703" width="4" height="28"/><rect x="912" y="703" width="4" height="28"/><rect x="952" y="688" width="4" height="43"/><rect x="960" y="693" width="4" height="38"/><rect x="968" y="697" width="4" height="34"/><rect x="976" y="701" width="4" height="30"/><rect x="1000" y="702" width="4" height="29"/><rect x="1008" y="704" width="4" height="27"/><rect x="1016" y="706" width="4" height="25"/><rect x="1024" y="707" width="4" height="24"/><rect x="1032" y="708" width="4" height="23"/><rect x="1040" y="711" width="4" height="20"/><rect x="1048" y="715" width="4" height="16"/><rect x="1056" y="718" width="4" height="13"/><rect x="1064" y="720" width="4" height="11"/><rect x="1072" y="722" width="4" height="9"/><rect x="1080" y="725" width="4" height="6"/><rect x="1088" y="730" width="4" height="1"/><rect x="1128" y="721" width="4" height="10"/><rect x="1136" y="722" width="4" height="9"/><rect x="1144" y="725" width="4" height="6"/></g></g>
<g clip-path="url(#c3)" shape-rendering="crispEdges"><g fill="#008000"><rect x="16" y="731" width="4" height="11"/><rect x="24" y="731" width="4" height="13"/><rect x="32" y="731" width="4" height="15"/><rect x="40" y="731" width="4" height="22"/><rect x="48" y="731" width="4" height="23"/><rect x="80" y="731" width="4" height="5"/><rect x="112" y="731" width="4" height="2"/><rect x="120" y="731" width="4" height="4"/><rect x="128" y="731" width="4" height="4"/><rect x="136" y="731" width="4" height="5"/><rect x="152" y="731" width="4" height="4"/><rect x="160" y="731" width="4" height="5"/><rect x="176" y="731" width="4" height="5"/><rect x="184" y="731" width="4" height="6"/><rect x="192" y="731" width="4" height="11"/><rect x="200" y="731" width="4" height="23"/><rect x="208" y="731" width="4" height="29"/><rect x="216" y="731" width="4" height="30"/><rect x="224" y="731" width="4" height="31"/><rect x="232" y="731" width="4" height="34"/><rect x="368" y="731" width="4" height="3"/><rect x="376" y="731" width="4" height="1"/><rect x="384" y="731" width="4" height="5"/><rect x="400" y="731" width="4" height="6"/><rect x="408" y="731" width="4" height="7"/><rect x="424" y="731" width="4" height="12"/><rect x="432" y="731" width="4" height="14"/><rect x="440" y="731" width="4" height="17"/><rect x="448" y="731" width="4" height="17"/><rect x="488" y="731" width="4" height="13"/><rect x="512" y="731" width="4" height="6"/><rect x="536" y="731" width="4" height="1"/><rect x="544" y="731" width="4" height="2"/><rect x="552" y="731" width="4" height="3"/><rect x="576" y="731" width="4" height="7"/><rect x="584" y="731" width="4" height="8"/><rect x="592" y="731" width="4" height="11"/><rect x="600" y="731" width="4" height="13"/><rect x="624" y="731" width="4" height="21"/><rect x="632" y="731" width="4" height="24"/><rect x="640" y="731" width="4" height="27"/><rect x="704" y="731" width="4" height="4"/><rect x="712" y="731" width="4" height="8"/><rect x="720" y="731" width="4" height="9"/><rect x="736" y="731" width="4" height="9"/><rect x="784" y="731" width="4" height="2"/><rect x="792" y="731" width="4" height="6"/><rect x="800" y="731" width="4" height="9"/><rect x="808" y="731" width="4" height="9"/><rect x="816" y="731" width="4" height="10"/><rect x="840" y="731" width="4" height="10"/><rect x="848" y="731" width="4" height="17"/><rect x="856" y="731" width="4" height="24"/><rect x="864" y="731" width="4" height="27"/><rect x="904" y="731" width="4" height="26"/><rect x="912" y="731" width="4" height="36"/><rect x="920" y="731" width="4" height="39"/><rect x="968" y="731" width="4" height="19"/><rect x="1048" y="731" width="4" height="2"/><rect x="1056" y="731" width="4" height="4"/><rect x="1064" y="731" width="4" height="6"/><rect x="1072" y="731" width="4" height="12"/><rect x="1080" y="731" width="4" height="17"/><rect x="1088" y="731" width="4" height="18"/><rect x="1104" y="731" width="4" height="18"/><rect x="1136" y="731" width="4" height="9"/></g><g fill="#ff0000"><rect x="0" y="731" width="4" height="7"/><rect x="8" y="731" width="4" height="7"/><rect x="56" y="731" width="4" height="17"/><rect x="64" y="731" width="4" height="7"/><rect x="72" y="731" width="4" height="2"/><rect x="88" y="731" width="4" height="3"/><rect x="96" y="731" width="4" height="1"/><rect x="104" y="731" width="4" height="1"/><rect x="144" y="731" width="4" height="4"/><rect x="168" y="731" width="4" height="4"/><rect x="240" y="731" width="4" height="32"/><rect x="248" y="731" width="4" height="29"/><rect x="256" y="731" width="4" height="28"/><rect x="264" y="731" width="4" height="23"/><rect x="272" y="731" width="4" height="17"/><rect x="280" y="731" width="4" height="14"/><rect x="288" y="731" width="4" height="13"/><rect x="296" y="731" width="4" height="12"/><rect x="304" y="731" width="4" height="11"/><rect x="312" y="731" width="4" height="10"/><rect x="320" y="731" width="4" height="6"/><rect x="328" y="731" width="4" height="3"/><rect x="336" y="731" width="4" height="1"/><rect x="344" y="731" width="4" height="1"/><rect x="352" y="731" width="4" height="1"/><rect x="360" y="731" width="4" height="1"/><rect x="392" y="731" width="4" height="1"/><rect x="416" y="731" width="4" height="4"/><rect x="456" y="731" width="4" height="17"/><rect x="464" y="731" width="4" height="16"/><rect x="472" y="731" width="4" height="14"/><rect x="480" y="731" width="4" height="13"/><rect x="496" y="731" width="4" height="7"/><rect x="504" y="731" width="4" height="3"/><rect x="520" y="731" width="4" height="5"/><rect x="528" y="731" width="4" height="3"/><rect x="560" y="731" width="4" height="3"/><rect x="568" y="731" width="4" height="1"/><rect x="608" y="731" width="4" height="9"/><rect x="616" y="731" width="4" height="9"/><rect x="648" y="731" width="4" height="27"/><rect x="656" y="731" width="4" height="24"/><rect x="664" y="731" width="4" height="20"/><rect x="672" y="731" width="4" height="9"/><rect x="680" y="731" width="4" height="1"/><rect x="688" y="731" width="4" height="1"/><rect x="696" y="731" width="4" height="1"/><rect x="728" y="731" width="4" height="8"/><rect x="744" y="731" width="4" height="9"/><rect x="752" y="731" width="4" height="5"/><rect x="760" y="731" width="4" height="4"/><rect x="768" y="731" width="4" height="2"/><rect x="776" y="731" width="4" height="1"/><rect x="824" y="731" width="4" height="10"/><rect x="832" y="731" width="4" height="8"/><rect x="872" y="731" width="4" height="26"/><rect x="880" y="731" width="4" height="25"/><rect x="888" y="731" width="4" height="23"/><rect x="896" y="731" width="4" height="21"/><rect x="928" y="731" width="4" height="35"/><rect x="936" y="731" width="4" height="34"/><rect x="944" y="731" width="4" height="27"/><rect x="952" y="731" width="4" height="19"/><rect x="960" y="731" width="4" height="17"/><rect x="976" y="731" width="4" height="18"/><rect x="984" y="731" width="4" height="15"/><rect x="992" y="731" width="4" height="13"/><rect x="1000" y="731" width="4" height="12"/><rect x="1008" y="731" width="4" height="11"/><rect x="1016" y="731" width="4" height="10"/><rect x="1024" y="731" width="4" height="6"/><rect x="1032" y="731" width="4" height="1"/><rect x="1040" y="731" width="4" height="1"/><rect x="1096" y="731" width="4" height="17"/><rect x="1112" y="731" width="4" height="17"/><rect x="1120" y="731" width="4" height="11"/><rect x="1128" y="731" width="4" height="7"/></g></g>
<path d="M2 521.5H1237M2 622.5H1237M2 731.5H1237" clip-path="url(#call)" stroke="#dadada" stroke-width="1" stroke-dasharray="3 3" fill="none" shape-rendering="crispEdges"/>
<path d="M2.5 2.5H1237.5V473.5H2.5ZM2.5 475.5H1237.5V575.5H2.5ZM2.5 577.5H1237.5V677.5H2.5ZM2.5 679.5H1237.5V779.5H2.5Z" stroke="#000" stroke-width="1" fill="none" shape-rendering="crispEdges"/>
<rect x="1240" y="279" width="29" height="11" fill="#c80000"/>
<text x="1243" y="40" textLength="22.22" lengthAdjust="spacingAndGlyphs">4.765</text>
<text x="1243" y="73" textLength="22.22" lengthAdjust="spacingAndGlyphs">4.730</text>
<text x="1243" y="107" textLength="22.22" lengthAdjust="spacingAndGlyphs">4.695</text>
<text x="1243" y="141" textLength="22.22" lengthAdjust="spacingAndGlyphs">4.660</text>
<text x="1243" y="174" textLength="22.22" lengthAdjust="spacingAndGlyphs">4.625</text>
<text x="1243" y="208" textLength="22.22" lengthAdjust="spacingAndGlyphs">4.590</text>
<text x="1243" y="241" textLength="22.22" lengthAdjust="spacingAndGlyphs">4.555</text>
<text x="1243" y="275" textLength="22.22" lengthAdjust="spacingAndGlyphs">4.520</text>
<text x="1243" y="309" textLength="22.22" lengthAdjust="spacingAndGlyphs">4.485</text>
<text x="1243" y="342" textLength="22.22" lengthAdjust="spacingAndGlyphs">4.450</text>
<text x="1243" y="376" textLength="22.22" lengthAdjust="spacingAndGlyphs">4.415</text>
<text x="1243" y="410" textLength="22.22" lengthAdjust="spacingAndGlyphs">4.380</text>
<text x="1243" y="443" textLength="22.22" lengthAdjust="spacingAndGlyphs">4.345</text>
<text x="1243" y="288" textLength="22.22" lengthAdjust="spacingAndGlyphs" style="fill:#fff;stroke:#fff;stroke-width:0.1px">4.507</text>
<text x="1243" y="484" textLength="27.00" lengthAdjust="spacingAndGlyphs">0.1655</text>
<text x="1243" y="524" textLength="27.00" lengthAdjust="spacingAndGlyphs">0.0000</text>
<text x="1243" y="573" textLength="29.94" lengthAdjust="spacingAndGlyphs">-0.1912</text>
<text x="1243" y="586" textLength="31.91" lengthAdjust="spacingAndGlyphs">0.05310</text>
<text x="1243" y="625" textLength="31.91" lengthAdjust="spacingAndGlyphs">0.00000</text>
<text x="1243" y="675" textLength="34.85" lengthAdjust="spacingAndGlyphs">-0.06564</text>
<text x="1243" y="688" textLength="27.00" lengthAdjust="spacingAndGlyphs">0.0874</text>
<text x="1243" y="734" textLength="27.00" lengthAdjust="spacingAndGlyphs">0.0000</text>
<text x="1243" y="777" textLength="29.94" lengthAdjust="spacingAndGlyphs">-0.0804</text>
<text x="2" y="792" textLength="52.73" lengthAdjust="spacingAndGlyphs">18 Nov 2025</text>
<text x="66" y="792" textLength="55.32" lengthAdjust="spacingAndGlyphs">19 Nov 01:00</text>
<text x="130" y="792" textLength="55.32" lengthAdjust="spacingAndGlyphs">19 Nov 09:00</text>
<text x="194" y="792" textLength="55.32" lengthAdjust="spacingAndGlyphs">19 Nov 17:00</text>
<text x="258" y="792" textLength="55.32" lengthAdjust="spacingAndGlyphs">20 Nov 03:00</text>
<text x="322" y="792" textLength="55.32" lengthAdjust="spacingAndGlyphs">20 Nov 11:00</text>
<text x="386" y="792" textLength="55.32" lengthAdjust="spacingAndGlyphs">20 Nov 19:00</text>
<text x="450" y="792" textLength="55.32" lengthAdjust="spacingAndGlyphs">21 Nov 05:00</text>
<text x="514" y="792" textLength="55.32" lengthAdjust="spacingAndGlyphs">21 Nov 13:00</text>
<text x="578" y="792" textLength="55.32" lengthAdjust="spacingAndGlyphs">21 Nov 21:00</text>
<text x="642" y="792" textLength="55.32" lengthAdjust="spacingAndGlyphs">24 Nov 07:00</text>
<text x="706" y="792" textLength="55.32" lengthAdjust="spacingAndGlyphs">24 Nov 15:00</text>
<text x="770" y="792" textLength="55.32" lengthAdjust="spacingAndGlyphs">25 Nov 01:00</text>
<text x="834" y="792" textLength="55.32" lengthAdjust="spacingAndGlyphs">25 Nov 09:00</text>
<text x="898" y="792" textLength="55.32" lengthAdjust="spacingAndGlyphs">25 Nov 17:00</text>
<text x="962" y="792" textLength="55.32" lengthAdjust="spacingAndGlyphs">26 Nov 03:00</text>
<text x="1026" y="792" textLength="55.32" lengthAdjust="spacingAndGlyphs">26 Nov 11:00</text>
<text x="1090" y="792" textLength="55.32" lengthAdjust="spacingAndGlyphs">26 Nov 19:00</text>
<path d="M1238 36.5H1242M1238 69.5H1242M1238 103.5H1242M1238 137.5H1242M1238 170.5H1242M1238 204.5H1242M1238 237.5H1242M1238 271.5H1242M1238 305.5H1242M1238 338.5H1242M1238 372.5H1242M1238 406.5H1242M1238 439.5H1242M1238 476.5H1242M1238 574.5H1242M1238 578.5H1242M1238 676.5H1242M1238 680.5H1242M1238 778.5H1242M2.5 780V784M66.5 780V784M130.5 780V784M194.5 780V784M258.5 780V784M322.5 780V784M386.5 780V784M450.5 780V784M514.5 780V784M578.5 780V784M642.5 780V784M706.5 780V784M770.5 780V784M834.5 780V784M898.5 780V784M962.5 780V784M1026.5 780V784M1090.5 780V784" stroke="#000" stroke-width="1" fill="none" shape-rendering="crispEdges"/>
<text x="6" y="488" textLength="60.86" lengthAdjust="spacingAndGlyphs">AOcust 0.0563</text>
<text x="6" y="590" textLength="68.52" lengthAdjust="spacingAndGlyphs">ACcust -0.00596</text>
<text x="6" y="692" textLength="106.37" lengthAdjust="spacingAndGlyphs">GatorCust 0.0106 -0.0147</text>
</svg></body></html>
